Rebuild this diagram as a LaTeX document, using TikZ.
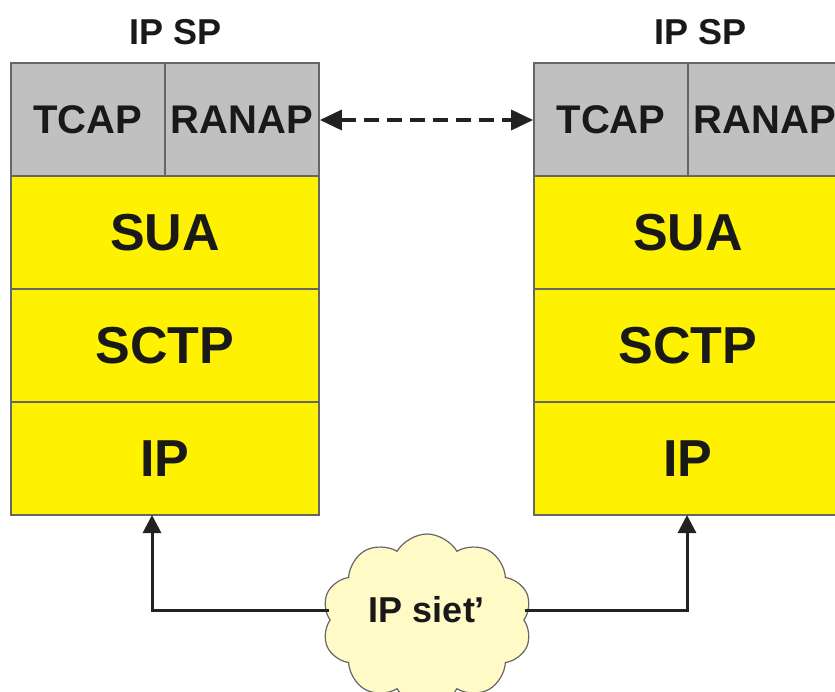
\documentclass[tikz,border=0pt]{standalone}
\usepackage{fontspec}
\setmainfont{Liberation Sans}
\usetikzlibrary{shapes.symbols,arrows.meta}
\definecolor{boxgray}{HTML}{C0C0C0}
\definecolor{layeryellow}{HTML}{FFF200}
\definecolor{cloudfill}{HTML}{FFFAC6}
\definecolor{edgegray}{HTML}{666666}
\definecolor{linedark}{HTML}{222222}
\tikzset{
 layerbox/.style={draw=edgegray, line width=1.8pt, fill=layeryellow, minimum width=308pt, minimum height=113pt, inner sep=0pt, font=\fontsize{52}{60}\selectfont\bfseries, text=black!90},
 appbox/.style={draw=edgegray, line width=1.8pt, fill=boxgray, minimum width=154pt, minimum height=113pt, inner sep=0pt, font=\fontsize{40}{48}\selectfont\bfseries, text=black!90},
 titletext/.style={font=\fontsize{36}{42}\selectfont\bfseries, text=black!90, inner sep=0pt},
 conn/.style={draw=linedark, line width=3pt},
 uptip/.style={-{Triangle[length=18pt,width=18pt]}},
 bothtips/.style={{Triangle[length=22pt,width=20pt]}-{Triangle[length=22pt,width=20pt]}},
}
\begin{document}
\begin{tikzpicture}[x=1pt,y=-1pt]
\useasboundingbox (0,0) rectangle (835,691);
\clip (0,0) rectangle (835,691);
% left stack
\node[titletext] (ltitle) at (176,32) {IP SP};
\node[appbox] (ltcap) at (88,119.5) {TCAP};
\node[appbox] (lranap) at (242,119.5) {RANAP};
\node[layerbox] (lsua) at (165,232.5) {SUA};
\node[layerbox] (lsctp) at (165,345.5) {SCTP};
\node[layerbox] (lip) at (165,458.5) {IP};
% right stack
\node[titletext] (rtitle) at (701,32) {IP SP};
\node[appbox] (rtcap) at (611,119.5) {TCAP};
\node[appbox] (rranap) at (765,119.5) {RANAP};
\node[layerbox] (rsua) at (688,232.5) {SUA};
\node[layerbox] (rsctp) at (688,345.5) {SCTP};
\node[layerbox] (rip) at (688,458.5) {IP};
% dashed peer arrow
\draw[conn, line width=3.5pt, bothtips, dash pattern=on 15pt off 8pt] (lranap.east |- 0,120) -- (rtcap.west |- 0,120);
% cloud
\node[cloud, cloud puffs=10, cloud puff arc=120, aspect=1.2, draw=edgegray, line width=1.2pt, fill=cloudfill, minimum width=210pt, minimum height=172pt, inner sep=0pt, font=\fontsize{36}{42}\selectfont\bfseries, text=black!90] (net) at (427,620) {};
\node[font=\fontsize{36}{42}\selectfont\bfseries, text=black!90, inner sep=0pt] (netlabel) at (427,610) {IP siet’};
\coordinate (la) at (152,515);
\coordinate (ra) at (687,515);
\draw[conn, uptip] (net.west |- 0,610) -| (la);
\draw[conn, uptip] (net.east |- 0,610) -| (ra);
\end{tikzpicture}
\end{document}
